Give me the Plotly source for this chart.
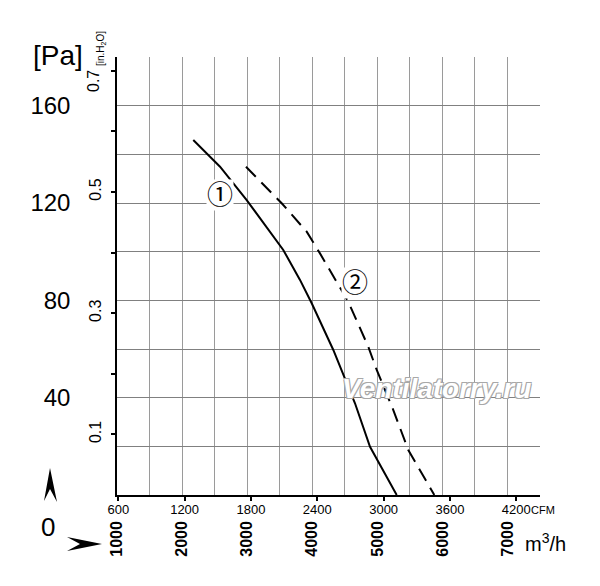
import plotly.graph_objects as go

# curva 1 (linea continua) e curva 2 (tratteggiata): portata m3/h, pressione Pa
flow_1 = [2172, 2583, 2993, 3555, 3812, 3992, 4324, 4657, 4888, 5298]
pres_1 = [145.9, 134.9, 121.2, 100.7, 88.4, 78.8, 59.6, 37.7, 19.8, 0]

flow_2 = [2982, 3531, 3915, 4119, 4554, 4862, 4991, 5246, 5476, 5876]
pres_2 = [134.9, 119.9, 108.2, 99.3, 79.4, 60.9, 51.4, 34.9, 18.5, 0]

# etichette degli assi
m3h_ticks = list(range(1000, 7501, 500))
m3h_text = [str(v) if v % 1000 == 0 and v < 7500 else "" for v in m3h_ticks]
cfm_ticks = [600, 1200, 1800, 2400, 3000, 3600, 4200]
pa_ticks = list(range(0, 181, 20))
pa_text = [str(v) if v in (40, 80, 120, 160) else "" for v in pa_ticks]
inh2o_ticks = [0.1, 0.2, 0.3, 0.4, 0.5, 0.6, 0.7]
inh2o_text = ["0.1", "", "0.3", "", "0.5", "", ""]

FONT = "Liberation Sans, Arial, sans-serif"
M3H_PER_CFM = 1.699
PA_PER_INH2O = 249.089

# la pagina sposta la figura di 8px (margine del body)
OFF = 8
L, R, T, B = 109, 60, 49, 91
W, H = 592, 578
pw, ph = W - L - R, H - T - B


# pixel della finestra -> coordinate paper (solo per le decorazioni)
def px(x):
    return (x - OFF - L) / pw


def py(y):
    return (T + ph + OFF - y) / ph


fig = go.Figure()

fig.add_trace(go.Scatter(x=flow_1, y=pres_1, mode="lines",
                         line=dict(color="black", width=2), showlegend=False))
fig.add_trace(go.Scatter(x=flow_2, y=pres_2, mode="lines",
                         line=dict(color="black", width=2, dash="14px,8px"),
                         showlegend=False))
# traccia vuota per attivare gli assi secondari
fig.add_trace(go.Scatter(x=[None], y=[None], xaxis="x2", yaxis="y2", showlegend=False))

fig.update_layout(
    width=W, height=H,
    margin=dict(l=L, r=R, t=T, b=B),
    paper_bgcolor="white",
    plot_bgcolor="white",
    xaxis=dict(range=[1000, 7500], tickvals=m3h_ticks, ticktext=m3h_text,
               tickangle=-90, ticks="", showgrid=True, gridcolor="#9a9a9a",
               gridwidth=1, zeroline=False, showline=True, linecolor="black",
               linewidth=1.5, ticklabelstandoff=18,
               tickfont=dict(family=FONT, size=16, color="black", weight="bold")),
    xaxis2=dict(range=[1000 / M3H_PER_CFM, 7500 / M3H_PER_CFM], overlaying="x",
                anchor="y", side="bottom", tickvals=cfm_ticks,
                ticks="outside", ticklen=5, tickcolor="black", tickwidth=1.5,
                showgrid=False, zeroline=False, showline=False,
                ticklabelstandoff=-3,
                tickfont=dict(family=FONT, size=13, color="black")),
    yaxis=dict(range=[0, 180], tickvals=pa_ticks, ticktext=pa_text,
               ticks="", showgrid=True, gridcolor="#808080", gridwidth=1.2,
               zeroline=False, showline=True, linecolor="black", linewidth=1.5,
               ticklabelstandoff=40,
               tickfont=dict(family=FONT, size=24, color="black")),
    yaxis2=dict(range=[0, 180 / PA_PER_INH2O], overlaying="y", anchor="x",
                side="left", tickvals=inh2o_ticks, ticktext=inh2o_text,
                ticks="outside", ticklen=5, tickcolor="black", tickwidth=1.5,
                tickangle=-90, showgrid=False, zeroline=False, showline=False,
                ticklabelstandoff=4,
                tickfont=dict(family=FONT, size=16, color="black")),
)


def label(x, y, text, size, angle=0, **kw):
    return dict(x=px(x), y=py(y), xref="paper", yref="paper", text=text,
                textangle=angle, showarrow=False, xanchor="center", yanchor="middle",
                font=dict(family=FONT, size=size, color="black"), **kw)


circ = dict(family="DejaVu Serif, Noto Sans CJK JP", size=26, color="black")
ann = [
    dict(x=2583, y=123.3, xref="x", yref="y", text="①", showarrow=False,
         xanchor="center", yanchor="middle", bgcolor="white", borderpad=0, font=circ),
    dict(x=4657, y=87.1, xref="x", yref="y", text="②", showarrow=False,
         xanchor="center", yanchor="middle", bgcolor="white", borderpad=0, font=circ),
    label(58, 55, "[Pa]", 28),
    label(101, 49, "[in.H<sub>2</sub>O]", 10, -90),
    label(93, 81, "0.7", 16, -90),
    label(48, 527, "0", 26),
    label(543, 510, "CFM", 11),
    label(545, 542, "m<sup>3</sup>/h", 20),
    dict(x=px(436), y=py(388), xref="paper", yref="paper", text="<b><i>Ventilatorry.ru</i></b>",
         showarrow=False, xanchor="center", yanchor="middle",
         font=dict(family=FONT, size=28, color="white",
                   shadow="-1px -1px 0 #a8a8a8, 1px -1px 0 #a8a8a8, -1px 1px 0 #a8a8a8, 1px 1px 0 #a8a8a8")),
]
fig.update_layout(annotations=ann)

# frecce decorative in basso a sinistra
up = f"M {px(50)},{py(468)} L {px(44)},{py(501)} L {px(50)},{py(489)} L {px(57)},{py(502)} Z"
right = f"M {px(67)},{py(537)} L {px(102)},{py(544)} L {px(67)},{py(551)} L {px(80)},{py(544)} Z"
fig.update_layout(shapes=[
    dict(type="path", path=up, xref="paper", yref="paper", fillcolor="black", line=dict(width=0)),
    dict(type="path", path=right, xref="paper", yref="paper", fillcolor="black", line=dict(width=0)),
])

fig.write_html("out.html")
